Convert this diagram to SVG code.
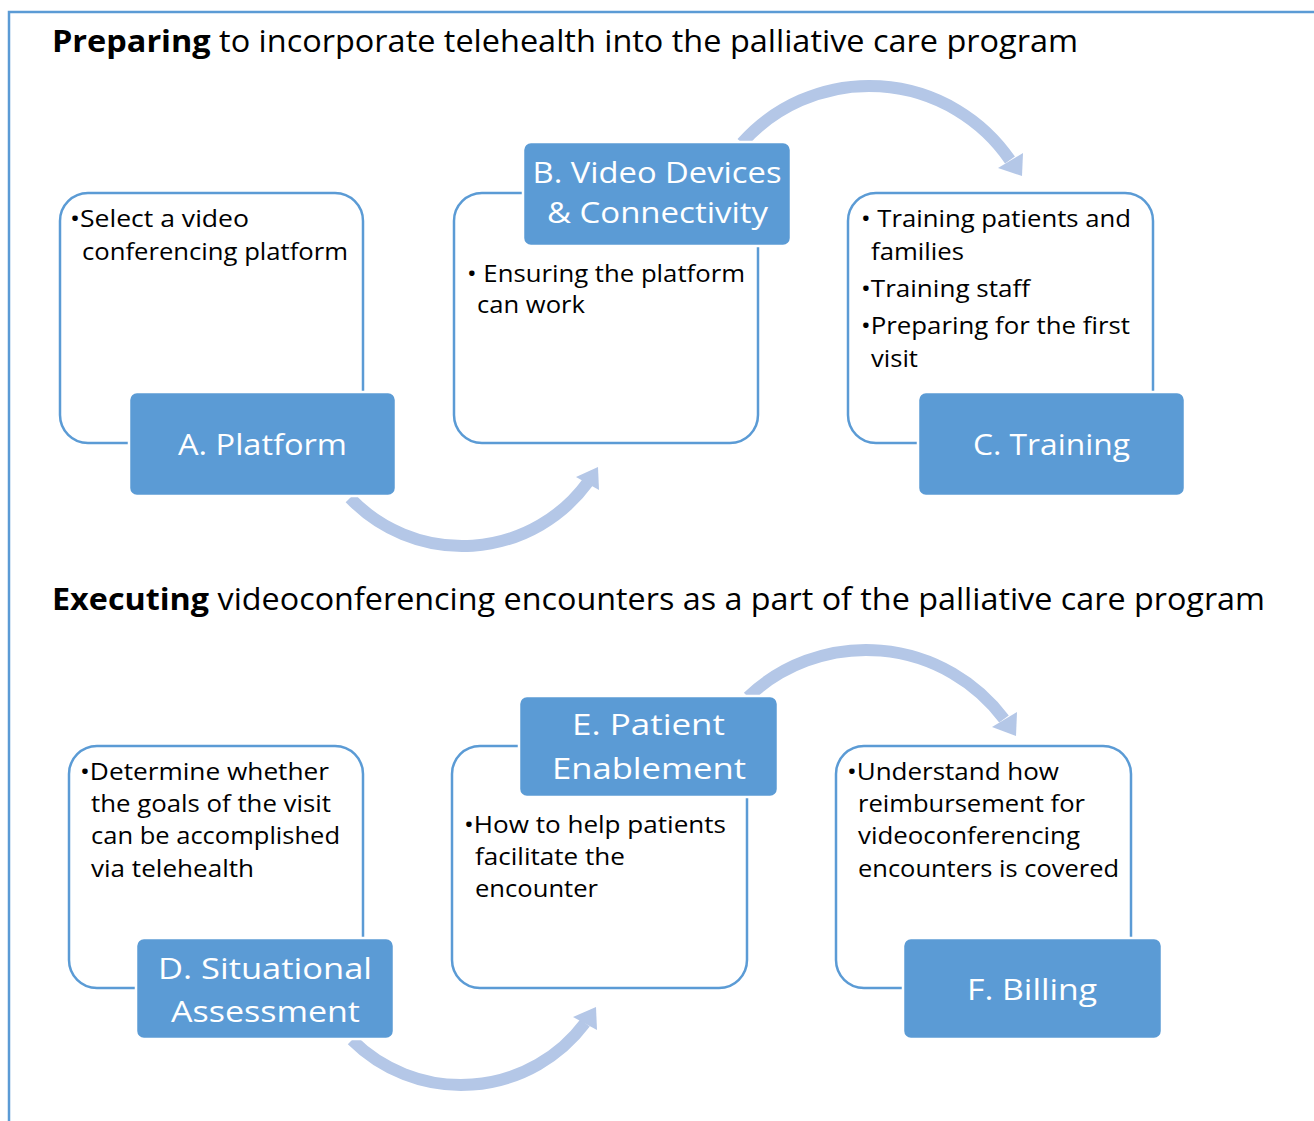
<svg xmlns="http://www.w3.org/2000/svg" width="1314" height="1121" viewBox="0 0 1314 1121">
<style>
  text { font-family: "Open Sans", "Noto Sans", "Liberation Sans", sans-serif; }
  .title { font-size: 31px; fill: #000; }
  .title .b { font-weight: bold; }
  .body { font-size: 24px; fill: #000; }
  .lbl { font-size: 30px; fill: #fff; text-anchor: middle; }
  .outline { fill: #fff; stroke: #5b9bd5; stroke-width: 2.5; }
  .label { fill: #5b9bd5; stroke: #fff; stroke-width: 2.5; }
  .band { fill: none; stroke: #b4c7e7; stroke-width: 12; }
  .head { fill: #b4c7e7; }
</style>
<rect width="1314" height="1121" fill="#fff"/>
<path d="M9,1121 V12 H1314" fill="none" stroke="#5b9bd5" stroke-width="2.5"/>

<g id="titles">
  <text class="title" x="52" y="52" textLength="1026" lengthAdjust="spacingAndGlyphs"><tspan class="b">Preparing</tspan> to incorporate telehealth into the palliative care program</text>
  <text class="title" x="52" y="610" textLength="1213" lengthAdjust="spacingAndGlyphs"><tspan class="b">Executing</tspan> videoconferencing encounters as a part of the palliative care program</text>
</g>

<g id="connectors">
  <path class="band" d="M350,498 A155.4,155.4 0 0 0 588,482"/>
  <polygon class="head" points="598,467 576,477 599,490"/>
  <path class="band" d="M742,143 A170.6,170.6 0 0 1 1010,160"/>
  <polygon class="head" points="1022,176 998,168 1023,153"/>
  <path class="band" d="M352,1040 A154.8,154.8 0 0 0 585,1023"/>
  <polygon class="head" points="596,1007 573,1017 597,1030"/>
  <path class="band" d="M748,697 A172.1,172.1 0 0 1 1004,719"/>
  <polygon class="head" points="1016,736 992,727 1017,712"/>
</g>

<g id="node-a">
  <rect class="outline" x="60" y="193" width="303" height="250" rx="28"/>
  <text class="body" x="70" y="227" textLength="179" lengthAdjust="spacingAndGlyphs">•Select a video</text>
  <text class="body" x="82" y="260" textLength="266" lengthAdjust="spacingAndGlyphs">conferencing platform</text>
  <rect class="label" x="129" y="392" width="267" height="104" rx="8"/>
  <text class="lbl" x="262.5" y="455" textLength="169" lengthAdjust="spacingAndGlyphs">A. Platform</text>
</g>

<g id="node-b">
  <rect class="outline" x="454" y="193" width="304" height="250" rx="28"/>
  <text class="body" x="467" y="282" textLength="278" lengthAdjust="spacingAndGlyphs">• Ensuring the platform</text>
  <text class="body" x="477" y="313" textLength="108" lengthAdjust="spacingAndGlyphs">can work</text>
  <rect class="label" x="523" y="142" width="268" height="104" rx="8"/>
  <text class="lbl" x="657" y="183" textLength="249" lengthAdjust="spacingAndGlyphs">B. Video Devices</text>
  <text class="lbl" x="657.5" y="223" textLength="221" lengthAdjust="spacingAndGlyphs">&amp; Connectivity</text>
</g>

<g id="node-c">
  <rect class="outline" x="848" y="193" width="305" height="250" rx="28"/>
  <text class="body" x="861" y="227" textLength="270" lengthAdjust="spacingAndGlyphs">• Training patients and</text>
  <text class="body" x="871" y="260" textLength="93" lengthAdjust="spacingAndGlyphs">families</text>
  <text class="body" x="861" y="297" textLength="169" lengthAdjust="spacingAndGlyphs">•Training staff</text>
  <text class="body" x="861" y="334" textLength="269" lengthAdjust="spacingAndGlyphs">•Preparing for the first</text>
  <text class="body" x="871" y="367" textLength="47" lengthAdjust="spacingAndGlyphs">visit</text>
  <rect class="label" x="918" y="392" width="267" height="104" rx="8"/>
  <text class="lbl" x="1051.5" y="455" textLength="157" lengthAdjust="spacingAndGlyphs">C. Training</text>
</g>

<g id="node-d">
  <rect class="outline" x="69" y="746" width="294" height="242" rx="28"/>
  <text class="body" x="80" y="780" textLength="249" lengthAdjust="spacingAndGlyphs">•Determine whether</text>
  <text class="body" x="91" y="812" textLength="240" lengthAdjust="spacingAndGlyphs">the goals of the visit</text>
  <text class="body" x="91" y="844" textLength="249" lengthAdjust="spacingAndGlyphs">can be accomplished</text>
  <text class="body" x="91" y="877" textLength="163" lengthAdjust="spacingAndGlyphs">via telehealth</text>
  <rect class="label" x="136" y="938" width="258" height="101" rx="8"/>
  <text class="lbl" x="265" y="979" textLength="214" lengthAdjust="spacingAndGlyphs">D. Situational</text>
  <text class="lbl" x="265.5" y="1022" textLength="189" lengthAdjust="spacingAndGlyphs">Assessment</text>
</g>

<g id="node-e">
  <rect class="outline" x="452" y="746" width="295" height="242" rx="28"/>
  <text class="body" x="464" y="833" textLength="262" lengthAdjust="spacingAndGlyphs">•How to help patients</text>
  <text class="body" x="475" y="865" textLength="150" lengthAdjust="spacingAndGlyphs">facilitate the</text>
  <text class="body" x="475" y="897" textLength="123" lengthAdjust="spacingAndGlyphs">encounter</text>
  <rect class="label" x="519" y="696" width="259" height="101" rx="8"/>
  <text class="lbl" x="648.5" y="735" textLength="153" lengthAdjust="spacingAndGlyphs">E. Patient</text>
  <text class="lbl" x="649" y="779" textLength="194" lengthAdjust="spacingAndGlyphs">Enablement</text>
</g>

<g id="node-f">
  <rect class="outline" x="836" y="746" width="295" height="242" rx="28"/>
  <text class="body" x="847" y="780" textLength="212" lengthAdjust="spacingAndGlyphs">•Understand how</text>
  <text class="body" x="858" y="812" textLength="227" lengthAdjust="spacingAndGlyphs">reimbursement for</text>
  <text class="body" x="858" y="844" textLength="222" lengthAdjust="spacingAndGlyphs">videoconferencing</text>
  <text class="body" x="858" y="877" textLength="261" lengthAdjust="spacingAndGlyphs">encounters is covered</text>
  <rect class="label" x="903" y="938" width="259" height="101" rx="8"/>
  <text class="lbl" x="1032" y="1000" textLength="130" lengthAdjust="spacingAndGlyphs">F. Billing</text>
</g>
</svg>
